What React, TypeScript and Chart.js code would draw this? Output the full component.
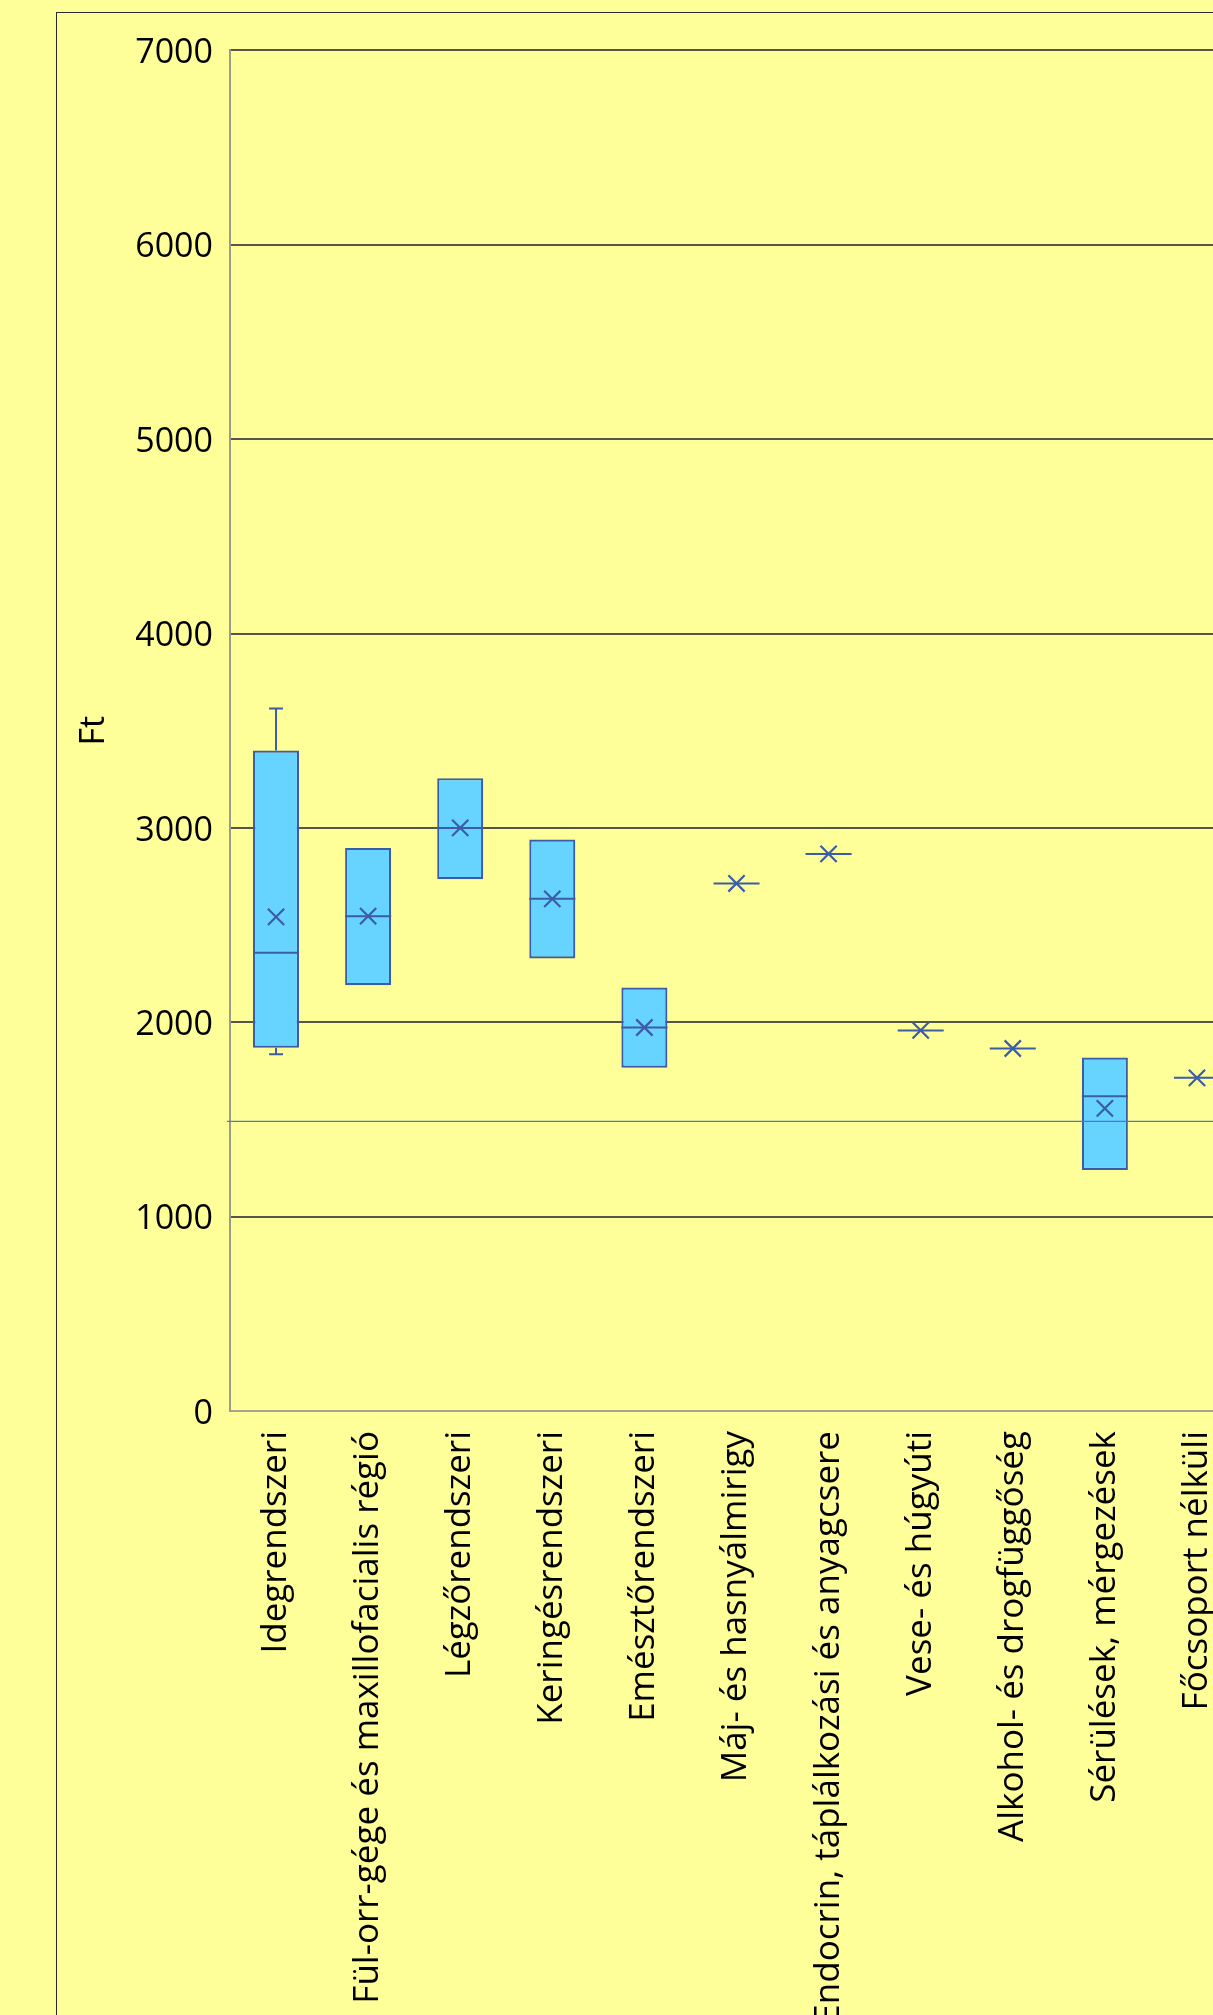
import React, { useEffect, useRef } from "react";
import { Chart, registerables } from "chart.js";

Chart.register(...registerables);

const categories = [
  "Idegrendszeri",
  "Fül-orr-gége és maxillofacialis régió",
  "Légzőrendszeri",
  "Keringésrendszeri",
  "Emésztőrendszeri",
  "Máj- és hasnyálmirigy",
  "Endocrin, táplálkozási és anyagcsere",
  "Vese- és húgyúti",
  "Alkohol- és drogfüggőség",
  "Sérülések, mérgezések",
  "Főcsoport nélküli",
];
const q1Values = [1869, 2191, 2736, 2328, 1766, 2714, 2866, 1958, 1865, 1240, 1714];
const q3Values = [3398, 2897, 3256, 2940, 2179, 2714, 2866, 1958, 1865, 1819, 1714];
const medianValues = [2357, 2546, 3000, 2635, 1973, 2714, 2866, 1958, 1865, 1619, 1714];
const meanValues = [2542, 2546, 3000, 2635, 1973, 2714, 2866, 1958, 1865, 1557, 1714];
const whiskerMax: (number | null)[] = [3614, null, null, null, null, null, null, null, null, null, null];
const whiskerMin: (number | null)[] = [1836, null, null, null, null, null, null, null, null, null, null];
const overallAverage = 1490;
const yTickValues = [0, 1000, 2000, 3000, 4000, 5000, 6000, 7000];
const yAxisTitle = "Ft";

const BG = "#FFFF99";
const BOX_FILL = "#66D4FF";
const BOX_LINE = "#3C5CA8";
const AVG_LINE = "#4A7BD0";
const GRID = "#56564F";
const FONT = "'Open Sans', 'Noto Sans', sans-serif";

const CANVAS_W = 1230;
const CANVAS_H = 2150;
const AREA_LEFT = 173;
const AREA_TOP = 37;
const AREA_BOTTOM = 1398;

const boxExtras = {
  id: "boxExtras",
  afterDatasetsDraw(chart: any) {
    const ctx = chart.ctx;
    const y = chart.scales.y;
    const meta = chart.getDatasetMeta(0);
    ctx.save();
    ctx.strokeStyle = BOX_LINE;
    ctx.lineWidth = 2;
    meta.data.forEach((bar: any, i: number) => {
      const { x, width } = bar.getProps(["x", "width"], true);
      const ym = y.getPixelForValue(medianValues[i]);
      ctx.beginPath();
      ctx.moveTo(x - width / 2, ym);
      ctx.lineTo(x + width / 2, ym);
      ctx.stroke();
      const cap = 7;
      const wMax = whiskerMax[i];
      if (wMax != null) {
        const yt = y.getPixelForValue(wMax);
        const yb = y.getPixelForValue(q3Values[i]);
        ctx.beginPath();
        ctx.moveTo(x, yb);
        ctx.lineTo(x, yt);
        ctx.moveTo(x - cap, yt);
        ctx.lineTo(x + cap, yt);
        ctx.stroke();
      }
      const wMin = whiskerMin[i];
      if (wMin != null) {
        const yt = y.getPixelForValue(q1Values[i]);
        const yb = y.getPixelForValue(wMin);
        ctx.beginPath();
        ctx.moveTo(x, yt);
        ctx.lineTo(x, yb);
        ctx.moveTo(x - cap, yb);
        ctx.lineTo(x + cap, yb);
        ctx.stroke();
      }
    });
    const ya = y.getPixelForValue(overallAverage);
    ctx.strokeStyle = AVG_LINE;
    ctx.lineWidth = 1.2;
    ctx.beginPath();
    ctx.moveTo(chart.chartArea.left - 3, ya);
    ctx.lineTo(chart.chartArea.right, ya);
    ctx.stroke();
    ctx.restore();
  },
};

export default function App() {
  const ref = useRef<HTMLCanvasElement | null>(null);

  useEffect(() => {
    if (!ref.current) return;
    const chart = new Chart(ref.current, {
      type: "bar",
      data: {
        labels: categories,
        datasets: [
          {
            type: "bar",
            label: "IQR",
            data: q1Values.map((v, i) => [v, q3Values[i]]) as any,
            backgroundColor: BOX_FILL,
            borderColor: BOX_LINE,
            borderWidth: 2.2,
            borderSkipped: false,
            barPercentage: 0.5,
            categoryPercentage: 1,
            order: 2,
          },
          {
            type: "line",
            label: "Átlag",
            data: meanValues,
            showLine: false,
            pointStyle: "crossRot",
            pointRadius: 11.5,
            pointBorderWidth: 2.2,
            pointBorderColor: BOX_LINE,
            pointBackgroundColor: BOX_LINE,
            borderColor: BOX_LINE,
            order: 1,
          } as any,
        ],
      },
      options: {
        responsive: false,
        animation: false,
        devicePixelRatio: 1,
        layout: { padding: { left: 0, top: AREA_TOP, right: CANVAS_W - 1186, bottom: 0 } },
        plugins: {
          legend: { display: false },
          tooltip: { enabled: false },
        },
        scales: {
          x: {
            type: "category",
            grid: { display: false, drawTicks: false },
            border: { display: true, color: "#A6A690", width: 2 },
            ticks: {
              autoSkip: false,
              minRotation: 90,
              maxRotation: 90,
              padding: 20,
              color: "#000000",
              font: { family: FONT, size: 35 },
            },
            afterFit: (scale: any) => {
              scale.height = CANVAS_H - AREA_BOTTOM;
            },
          },
          y: {
            min: 0,
            max: 7000,
            afterBuildTicks: (scale: any) => {
              scale.ticks = yTickValues.map((v) => ({ value: v }));
            },
            afterFit: (scale: any) => {
              scale.width = AREA_LEFT;
            },
            grid: {
              drawTicks: false,
              color: (c: any) => (c.tick && c.tick.value === 0 ? "rgba(0,0,0,0)" : GRID),
              lineWidth: 2,
            },
            border: { display: true, color: "#9C9C88", width: 2 },
            ticks: {
              padding: 17,
              labelOffset: 3,
              color: "#000000",
              font: { family: FONT, size: 34 },
              callback: (value: any) => String(value),
            },
            title: {
              display: true,
              text: yAxisTitle,
              color: "#000000",
              font: { family: FONT, size: 34 },
              padding: { top: 17, bottom: 0 },
            },
          },
        },
      },
      plugins: [boxExtras],
    });
    return () => chart.destroy();
  }, []);

  return (
    <div
      style={{
        position: "fixed",
        left: 0,
        top: 0,
        width: "100vw",
        height: "100vh",
        overflow: "hidden",
        background: BG,
      }}
    >
      <div
        style={{
          position: "absolute",
          left: 56,
          top: 12,
          width: CANVAS_W,
          height: CANVAS_H,
          border: "1px solid #2A2A2A",
          background: BG,
        }}
      >
        <canvas ref={ref} width={CANVAS_W} height={CANVAS_H} style={{ display: "block" }} />
      </div>
    </div>
  );
}
